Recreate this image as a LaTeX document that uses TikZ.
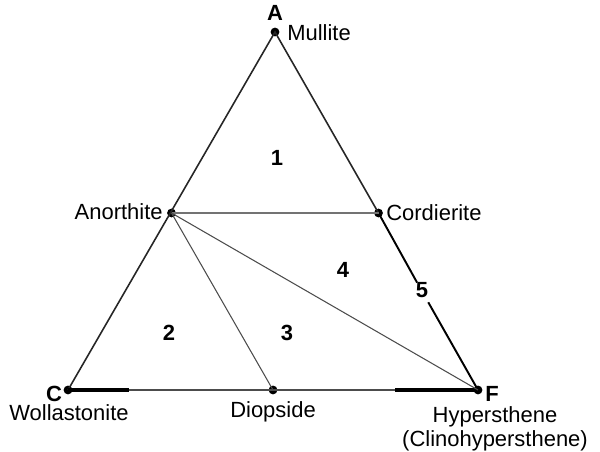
\documentclass[tikz,border=0pt]{standalone}
\usepackage{fontspec}
\setmainfont{Liberation Sans}
\usepackage{tikz}
\usetikzlibrary{calc}
\tikzset{
  edgeline/.style={line width=0.9pt, black!85},
  tieline/.style={line width=0.6pt, black!70},
  thickbase/.style={line width=1.8pt, black},
  phasedot/.style={circle, fill=black, inner sep=0pt, minimum size=5pt},
  fieldno/.style={font=\bfseries\fontsize{12.5}{14}\selectfont, inner sep=0pt},
  phasename/.style={font=\fontsize{12.5}{14}\selectfont, inner sep=0pt}
}

\begin{document}
\begin{tikzpicture}
            \useasboundingbox (0,0) rectangle (12,9.04);
            % corners and phases
            \node[phasedot] (A) at (5.5,8.40) {};
            \node[phasedot] (C) at (1.36,1.24) {};
            \node[phasedot] (F) at (9.56,1.24) {};
            \node[phasedot] (an) at (3.43,4.78) {};
            \node[phasedot] (co) at (7.57,4.78) {};
            \node[phasedot] (di) at (5.46,1.24) {};
            \coordinate (gapTop) at ($(F.center)!0.30!(A.center)$);
            \coordinate (gapBot) at ($(F.center)!0.245!(A.center)$);
            \coordinate (wo) at (2.58,1.24);
            \coordinate (hy) at (7.90,1.24);
            % triangle
            \draw[edgeline] (C.center) -- (A.center) -- (co.center);
            \draw[line width=1.1pt, black] (co.center) -- (gapTop);
            \draw[line width=1.1pt, black] (gapBot) -- (F.center);
            \draw[tieline] (C.center) -- (F.center);
            \draw[thickbase] (C.center) -- (wo);
            \draw[thickbase] (hy) -- (F.center);
            % tie lines
            \draw[tieline, black!55] (an.center) -- (co.center);
            \draw[tieline] (an.center) -- (di.center);
            \draw[tieline] (an.center) -- (F.center);
            % labels
            \node[fieldno] (labA) at (5.5,8.78) {A};
            \node[fieldno] (labC) at (1.08,1.16) {C};
            \node[fieldno] (labF) at (9.84,1.17) {F};
            \node[phasename, anchor=west] (mu) at (5.74,8.38) {Mullite};
            \node[phasename, anchor=east] (anl) at (3.26,4.80) {Anorthite};
            \node[phasename, anchor=west] (col) at (7.72,4.78) {Cordierite};
            \node[phasename] (wol) at (1.38,0.78) {Wollastonite};
            \node[phasename] (dil) at (5.46,0.80) {Diopside};
            \node[phasename, align=center] (hyl) at (9.9,0.46) {Hypersthene\\[-0.5pt](Clinohypersthene)};
            \node[fieldno] (f1) at (5.54,5.88) {1};
            \node[fieldno] (f2) at (3.38,2.38) {2};
            \node[fieldno] (f3) at (5.74,2.38) {3};
            \node[fieldno] (f4) at (6.86,3.64) {4};
            \node[fieldno] (f5) at (8.44,3.24) {5};
        \end{tikzpicture}
\end{document}
